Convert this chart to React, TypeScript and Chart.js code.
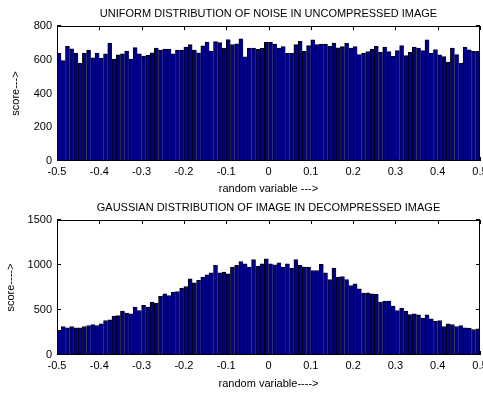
import React, { useEffect, useRef } from "react";
import { Chart, registerables } from "chart.js";

Chart.register(...registerables);

// 100 histogram bins of width 0.01 spanning [-0.5, 0.5]
const binCenters: number[] = Array.from({ length: 100 }, (_, i) => Math.round((-0.495 + i * 0.01) * 1000) / 1000);

const xTickValues = [-0.5, -0.4, -0.3, -0.2, -0.1, 0, 0.1, 0.2, 0.3, 0.4, 0.5];
const uniformYTicks = [0, 200, 400, 600, 800];
const gaussianYTicks = [0, 500, 1000, 1500];

const uniformCounts = [
  638, 595, 680, 665, 640, 580, 640, 658, 612, 640,
  610, 636, 700, 605, 630, 636, 652, 605, 672, 636,
  622, 627, 641, 669, 658, 663, 663, 636, 658, 658,
  675, 690, 658, 642, 683, 705, 652, 708, 702, 670,
  720, 690, 695, 724, 618, 670, 670, 662, 668, 704,
  704, 694, 669, 678, 639, 639, 690, 710, 651, 684,
  718, 690, 694, 694, 680, 700, 671, 678, 698, 669,
  678, 631, 639, 649, 663, 680, 645, 675, 649, 621,
  655, 684, 625, 645, 675, 669, 655, 718, 639, 661,
  629, 619, 586, 669, 631, 580, 675, 659, 651, 651,
];

const gaussianCounts = [
  273, 317, 302, 317, 302, 302, 317, 328, 339, 328,
  347, 384, 391, 432, 439, 487, 465, 458, 532, 495,
  551, 532, 588, 576, 651, 680, 662, 699, 706, 743,
  762, 847, 803, 829, 866, 892, 914, 996, 914, 921,
  903, 977, 996, 1040, 1014, 977, 1062, 988, 1014, 1070,
  1014, 1003, 1025, 977, 1014, 966, 1062, 996, 977, 977,
  940, 940, 1007, 914, 840, 966, 866, 873, 840, 773,
  792, 736, 688, 692, 680, 676, 588, 599, 599, 543,
  495, 521, 487, 450, 458, 447, 409, 447, 402, 373,
  384, 317, 347, 339, 317, 328, 302, 298, 284, 291,
];

const uniformTitle = "UNIFORM DISTRIBUTION OF NOISE IN UNCOMPRESSED IMAGE";
const gaussianTitle = "GAUSSIAN DISTRIBUTION OF IMAGE IN DECOMPRESSED IMAGE";
const uniformXLabel = "random variable --->";
const gaussianXLabel = "random variable---->";
const uniformYLabel = "score--->";
const gaussianYLabel = "score---->";

const FONT = "'Liberation Sans', Arial, Helvetica, sans-serif";
const BAR_COLOR = "#00008A";

const matlabAxes = {
  id: "matlabAxes",
  beforeDatasetsDraw(chart: any) {
    const { ctx, chartArea, scales } = chart;
    const { left, right, bottom } = chartArea;
    const x = scales.x;
    const y = scales.y;
    ctx.save();
    ctx.strokeStyle = "#000";
    ctx.lineWidth = 1;
    ctx.beginPath();
    x.ticks.forEach((t: any) => {
      const px = Math.round(x.getPixelForValue(t.value)) + 0.5;
      ctx.moveTo(px, bottom);
      ctx.lineTo(px, bottom - 4);
    });
    y.ticks.forEach((t: any) => {
      const py = Math.round(y.getPixelForValue(t.value)) - 0.5;
      ctx.moveTo(left, py);
      ctx.lineTo(left + 4, py);
      ctx.moveTo(right, py);
      ctx.lineTo(right - 4, py);
    });
    ctx.stroke();
    ctx.restore();
  },
  afterDatasetsDraw(chart: any) {
    const { ctx, chartArea, scales } = chart;
    const { left, right, top, bottom } = chartArea;
    const x = scales.x;
    ctx.save();
    ctx.strokeStyle = "#000";
    ctx.lineWidth = 1;
    ctx.beginPath();
    x.ticks.forEach((t: any) => {
      const px = Math.round(x.getPixelForValue(t.value)) + 0.5;
      ctx.moveTo(px, top);
      ctx.lineTo(px, top + 4);
    });
    ctx.stroke();
    ctx.strokeRect(Math.round(left) + 0.5, Math.round(top) + 0.5, Math.round(right - left) - 1, Math.round(bottom - top) - 1);
    ctx.restore();
  },
};

type PanelSpec = {
  title: string;
  titlePadTop: number;
  titlePadBottom: number;
  xLabel: string;
  xLabelPadBottom: number;
  xAxisHeight: number;
  xTickPad: number;
  yLabel: string;
  yLabelPadTop: number;
  yTicks: number[];
  counts: number[];
};

function buildConfig(p: PanelSpec): any {
  const font = { family: FONT, size: 11, weight: "normal" as const, lineHeight: 1.1 };
  const tickFont = { family: FONT, size: 11, weight: "normal" as const, lineHeight: 1.1 };
  return {
    type: "bar",
    data: {
      labels: binCenters,
      datasets: [
        {
          data: p.counts,
          backgroundColor: BAR_COLOR,
          borderColor: "#000",
          borderWidth: { top: 1, left: 1, right: 0, bottom: 0 },
          borderSkipped: false,
          barPercentage: 1,
          categoryPercentage: 1,
          grouped: false,
        },
      ],
    },
    options: {
      responsive: false,
      animation: false,
      devicePixelRatio: 1,
      events: [],
      layout: { padding: { left: 0, right: 3, top: 0, bottom: 0 } },
      plugins: {
        legend: { display: false },
        tooltip: { enabled: false },
        title: {
          display: true,
          text: p.title,
          fullSize: false,
          color: "#000",
          font,
          padding: { top: p.titlePadTop, bottom: p.titlePadBottom },
        },
      },
      scales: {
        x: {
          type: "linear",
          min: -0.5,
          max: 0.5,
          offset: false,
          grid: { display: false, drawTicks: false },
          border: { display: false },
          ticks: {
            color: "#000",
            font: tickFont,
            padding: p.xTickPad,
            autoSkip: false,
            maxRotation: 0,
            callback: (v: any) => {
              const n = Math.round(Number(v) * 10) / 10;
              return n === 0 ? "0" : String(n);
            },
          },
          afterBuildTicks: (s: any) => {
            s.ticks = xTickValues.map((v) => ({ value: v }));
          },
          afterFit: (s: any) => {
            s.height = p.xAxisHeight;
            s.paddingLeft = 0;
            s.paddingRight = 0;
          },
          title: {
            display: true,
            text: p.xLabel,
            color: "#000",
            font,
            padding: { top: 0, bottom: p.xLabelPadBottom },
          },
        },
        y: {
          type: "linear",
          min: 0,
          max: p.yTicks[p.yTicks.length - 1],
          grid: { display: false, drawTicks: false },
          border: { display: false },
          ticks: {
            color: "#000",
            font: tickFont,
            padding: 5,
            callback: (v: any) => String(Math.round(Number(v))),
          },
          afterBuildTicks: (s: any) => {
            s.ticks = p.yTicks.map((v) => ({ value: v }));
          },
          afterFit: (s: any) => {
            s.width = 57;
            s.paddingTop = 0;
            s.paddingBottom = 0;
          },
          title: {
            display: true,
            text: p.yLabel,
            color: "#000",
            font,
            padding: { top: p.yLabelPadTop, bottom: 0 },
          },
        },
      },
    },
    plugins: [matlabAxes],
  };
}

const panels: { spec: PanelSpec; top: number }[] = [
  {
    top: 0,
    spec: {
      title: uniformTitle,
      titlePadTop: 8,
      titlePadBottom: 6,
      xLabel: uniformXLabel,
      xLabelPadBottom: 2,
      xAxisHeight: 36,
      xTickPad: 5,
      yLabel: uniformYLabel,
      yLabelPadTop: 10,
      yTicks: uniformYTicks,
      counts: uniformCounts,
    },
  },
  {
    top: 197,
    spec: {
      title: gaussianTitle,
      titlePadTop: 5,
      titlePadBottom: 6,
      xLabel: gaussianXLabel,
      xLabelPadBottom: 4,
      xAxisHeight: 39,
      xTickPad: 5,
      yLabel: gaussianYLabel,
      yLabelPadTop: 5,
      yTicks: gaussianYTicks,
      counts: gaussianCounts,
    },
  },
];

function Panel({ spec, top }: { spec: PanelSpec; top: number }) {
  const ref = useRef<HTMLCanvasElement | null>(null);
  useEffect(() => {
    if (!ref.current) return;
    const chart = new Chart(ref.current, buildConfig(spec));
    return () => chart.destroy();
  }, [spec]);
  return (
    <canvas
      ref={ref}
      width={483}
      height={197}
      style={{ position: "absolute", left: 0, top, width: 483, height: 197, display: "block" }}
    />
  );
}

export default function App() {
  return (
    <div
      style={{
        position: "absolute",
        left: 0,
        top: 0,
        width: 483,
        height: 394,
        overflow: "hidden",
        background: "#ffffff",
      }}
    >
      {panels.map((p, i) => (
        <Panel key={i} spec={p.spec} top={p.top} />
      ))}
    </div>
  );
}
